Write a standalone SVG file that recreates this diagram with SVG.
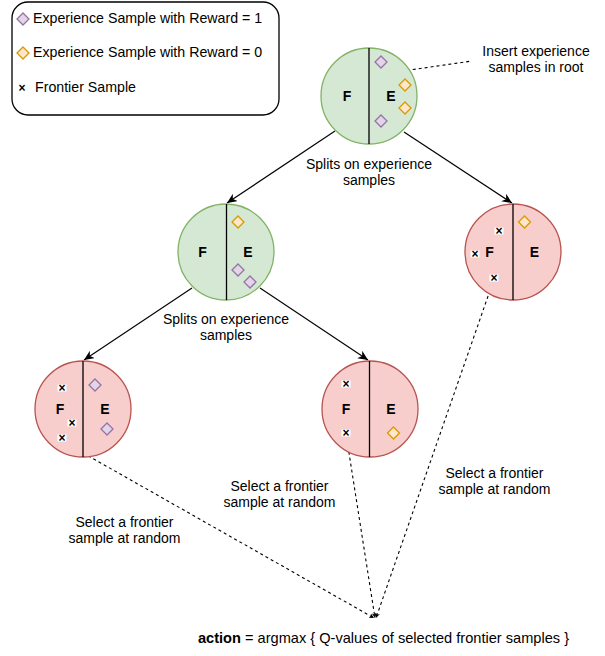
<svg xmlns="http://www.w3.org/2000/svg" width="605" height="656" viewBox="0 0 605 656">
<style>
text{font-family:"Liberation Sans",Arial,Helvetica,sans-serif;font-size:14px;fill:#000}
.lbl{text-anchor:middle}
.big{font-weight:bold;font-size:14px;text-anchor:middle}
.green{fill:#d5e8d4;stroke:#82b366;stroke-width:1.3}
.red{fill:#f8cecc;stroke:#b85450;stroke-width:1.3}
.div{stroke:#000;stroke-width:1.3}
.pur{fill:#e1d5e7;stroke:#9673a6;stroke-width:1.3}
.org{fill:#ffe6cc;stroke:#d79b00;stroke-width:1.3}
.edge{stroke:#000;stroke-width:1.2;fill:none}
.dash{stroke:#000;stroke-width:1.1;fill:none;stroke-dasharray:3 3}
.xbg{fill:#fff}
.x{font-size:12px;font-weight:bold;text-anchor:middle}
</style>
<defs>
<path id="dia" d="M0,-6 L6,0 L0,6 L-6,0 Z"/>
<g id="xm"><rect class="xbg" x="-4.5" y="-3.5" width="9" height="7"/><text class="x" x="0" y="4">×</text></g>
<marker id="arr" markerWidth="12" markerHeight="10" refX="10" refY="4.5" orient="auto" markerUnits="userSpaceOnUse">
<path d="M0,0 L10,4.5 L0,9 L3,4.5 Z" fill="#000"/>
</marker>
<marker id="sarr" markerWidth="8" markerHeight="6" refX="5" refY="2.5" orient="auto" markerUnits="userSpaceOnUse">
<path d="M0,0 L5,2.5 L0,5 L1.5,2.5 Z" fill="#000"/>
</marker>
</defs>

<g id="legend">
<rect x="12" y="2" width="267" height="113" rx="16" ry="16" fill="#fff" stroke="#000" stroke-width="1.3"/>
<use href="#dia" x="23" y="19" class="pur"/>
<text x="33" y="23" style="font-size:14.2px">Experience Sample with Reward = 1</text>
<use href="#dia" x="23" y="53" class="org"/>
<text x="33" y="57" style="font-size:14.2px">Experience Sample with Reward = 0</text>
<text class="x" x="22" y="92">×</text>
<text x="35" y="92" style="font-size:14.2px">Frontier Sample</text>
</g>

<g id="connectors">
<line class="edge" x1="335" y1="131" x2="227" y2="203" marker-end="url(#arr)"/>
<line class="edge" x1="404" y1="132" x2="512" y2="203" marker-end="url(#arr)"/>
<line class="edge" x1="192" y1="288" x2="84" y2="360" marker-end="url(#arr)"/>
<line class="edge" x1="260" y1="288" x2="368" y2="360" marker-end="url(#arr)"/>
<line class="dash" x1="389" y1="73" x2="472" y2="61"/>
<line class="dash" x1="62" y1="441" x2="374" y2="618" marker-end="url(#sarr)"/>
<line class="dash" x1="346" y1="434" x2="375" y2="618" marker-end="url(#sarr)"/>
<line class="dash" x1="494" y1="279" x2="376" y2="618" marker-end="url(#sarr)"/>
</g>

<g id="root">
<circle class="green" cx="369" cy="96" r="48"/>
<line class="div" x1="369" y1="48" x2="369" y2="144"/>
<text class="big" x="347" y="101">F</text>
<text class="big" x="391" y="101">E</text>
<use href="#dia" x="381" y="62" class="pur"/>
<use href="#dia" x="405" y="85" class="org"/>
<use href="#dia" x="405" y="108" class="org"/>
<use href="#dia" x="381" y="121" class="pur"/>
</g>

<g id="mid-left">
<circle class="green" cx="226" cy="252" r="48"/>
<line class="div" x1="226.5" y1="204" x2="226.5" y2="300"/>
<text class="big" x="202.5" y="257">F</text>
<text class="big" x="248" y="257">E</text>
<use href="#dia" x="238" y="222" class="org"/>
<use href="#dia" x="238" y="270" class="pur"/>
<use href="#dia" x="250" y="282" class="pur"/>
</g>

<g id="mid-right">
<circle class="red" cx="513" cy="252" r="48"/>
<line class="div" x1="513" y1="204" x2="513" y2="300"/>
<text class="big" x="489.5" y="257">F</text>
<text class="big" x="534.5" y="257">E</text>
<use href="#dia" x="524.5" y="222" class="org"/>
<use href="#xm" x="499" y="231"/>
<use href="#xm" x="475" y="254"/>
<use href="#xm" x="494" y="278"/>
</g>

<g id="bottom-left">
<circle class="red" cx="83" cy="409" r="48"/>
<line class="div" x1="83" y1="361" x2="83" y2="457"/>
<text class="big" x="60" y="414">F</text>
<text class="big" x="105" y="414">E</text>
<use href="#dia" x="95" y="385" class="pur"/>
<use href="#dia" x="107" y="429" class="pur"/>
<use href="#xm" x="62" y="388"/>
<use href="#xm" x="72" y="423"/>
<use href="#xm" x="62" y="438"/>
</g>

<g id="bottom-middle">
<circle class="red" cx="370" cy="409" r="48"/>
<line class="div" x1="369.5" y1="361" x2="369.5" y2="457"/>
<text class="big" x="346" y="414">F</text>
<text class="big" x="391" y="414">E</text>
<use href="#dia" x="393.5" y="433" class="org"/>
<use href="#xm" x="346" y="384"/>
<use href="#xm" x="346" y="433"/>
</g>

<g id="labels">
<text class="lbl" x="536" y="56">Insert experience</text>
<text class="lbl" x="536" y="72">samples in root</text>
<text class="lbl" x="369" y="169">Splits on experience</text>
<text class="lbl" x="369" y="185">samples</text>
<text class="lbl" x="226" y="324">Splits on experience</text>
<text class="lbl" x="226" y="340">samples</text>
<text class="lbl" x="124.5" y="527">Select a frontier</text>
<text class="lbl" x="124.5" y="543">sample at random</text>
<text class="lbl" x="279.5" y="491">Select a frontier</text>
<text class="lbl" x="279.5" y="507">sample at random</text>
<text class="lbl" x="494.5" y="478">Select a frontier</text>
<text class="lbl" x="494.5" y="494">sample at random</text>
<text class="lbl" x="383.5" y="643" style="font-size:14.6px"><tspan font-weight="bold">action</tspan> = argmax { Q-values of selected frontier samples }</text>
</g>
</svg>
